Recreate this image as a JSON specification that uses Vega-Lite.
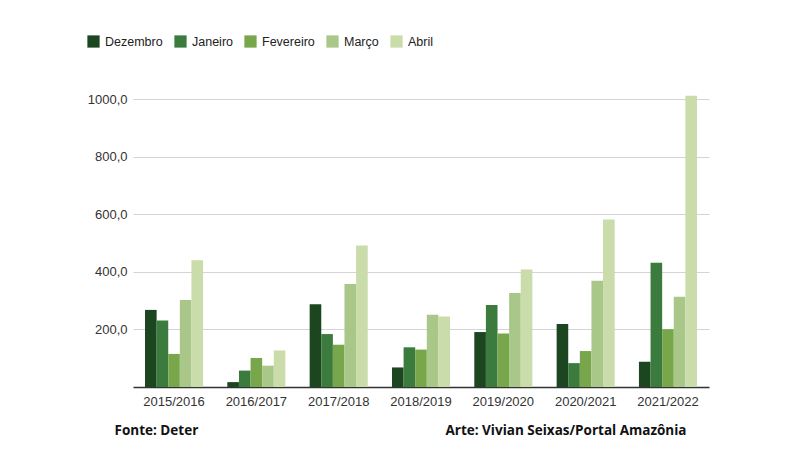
{
  "$schema": "https://vega.github.io/schema/vega-lite/v6.json",
  "description": "Desmatamento Deter por safra, dezembro a abril",
  "autosize": {"type": "none"},
  "width": 576,
  "height": 292,
  "padding": {"left": 133, "top": 95, "right": 91, "bottom": 63},
  "background": "white",
  "data": {
    "values": [
      {"safra": "2015/2016", "mes": "Dezembro", "area": 268},
      {"safra": "2015/2016", "mes": "Janeiro", "area": 231},
      {"safra": "2015/2016", "mes": "Fevereiro", "area": 115},
      {"safra": "2015/2016", "mes": "Março", "area": 302},
      {"safra": "2015/2016", "mes": "Abril", "area": 441},
      {"safra": "2016/2017", "mes": "Dezembro", "area": 17},
      {"safra": "2016/2017", "mes": "Janeiro", "area": 57},
      {"safra": "2016/2017", "mes": "Fevereiro", "area": 101},
      {"safra": "2016/2017", "mes": "Março", "area": 74},
      {"safra": "2016/2017", "mes": "Abril", "area": 127},
      {"safra": "2017/2018", "mes": "Dezembro", "area": 288},
      {"safra": "2017/2018", "mes": "Janeiro", "area": 184},
      {"safra": "2017/2018", "mes": "Fevereiro", "area": 147},
      {"safra": "2017/2018", "mes": "Março", "area": 358},
      {"safra": "2017/2018", "mes": "Abril", "area": 492},
      {"safra": "2018/2019", "mes": "Dezembro", "area": 68},
      {"safra": "2018/2019", "mes": "Janeiro", "area": 138},
      {"safra": "2018/2019", "mes": "Fevereiro", "area": 130},
      {"safra": "2018/2019", "mes": "Março", "area": 251},
      {"safra": "2018/2019", "mes": "Abril", "area": 245},
      {"safra": "2019/2020", "mes": "Dezembro", "area": 191},
      {"safra": "2019/2020", "mes": "Janeiro", "area": 285},
      {"safra": "2019/2020", "mes": "Fevereiro", "area": 186},
      {"safra": "2019/2020", "mes": "Março", "area": 327},
      {"safra": "2019/2020", "mes": "Abril", "area": 408},
      {"safra": "2020/2021", "mes": "Dezembro", "area": 219},
      {"safra": "2020/2021", "mes": "Janeiro", "area": 83},
      {"safra": "2020/2021", "mes": "Fevereiro", "area": 125},
      {"safra": "2020/2021", "mes": "Março", "area": 369},
      {"safra": "2020/2021", "mes": "Abril", "area": 582},
      {"safra": "2021/2022", "mes": "Dezembro", "area": 88},
      {"safra": "2021/2022", "mes": "Janeiro", "area": 432},
      {"safra": "2021/2022", "mes": "Fevereiro", "area": 201},
      {"safra": "2021/2022", "mes": "Março", "area": 314},
      {"safra": "2021/2022", "mes": "Abril", "area": 1012}
    ]
  },
  "mark": {"type": "bar"},
  "encoding": {
    "x": {
      "field": "safra",
      "type": "nominal",
      "scale": {"paddingInner": 0.295, "paddingOuter": 0.146},
      "axis": {
        "labelAngle": 0,
        "labelFont": "Liberation Sans",
        "labelFontSize": 13,
        "labelColor": "#333333",
        "labelPadding": 8,
        "ticks": false,
        "domainColor": "#333333",
        "domainWidth": 1.5,
        "title": "Arte: Vivian Seixas/Portal Amazônia",
        "titleFont": "Open Sans",
        "titleFontWeight": "bold",
        "titleFontSize": 13.5,
        "titleColor": "#111111",
        "titleAnchor": "end",
        "titleAlign": "right",
        "titleBaseline": "middle",
        "titleX": 553,
        "titleY": 43
      }
    },
    "xOffset": {
      "field": "mes",
      "type": "nominal",
      "sort": ["Dezembro", "Janeiro", "Fevereiro", "Março", "Abril"],
      "scale": {"paddingInner": 0, "paddingOuter": 0}
    },
    "y": {
      "field": "area",
      "type": "quantitative",
      "scale": {"domain": [0, 1015], "nice": false},
      "axis": {
        "values": [200, 400, 600, 800, 1000],
        "labelExpr": "replace(format(datum.value, '.1f'), '.', ',')",
        "labelFont": "Liberation Sans",
        "labelFontSize": 13,
        "labelColor": "#333333",
        "labelPadding": 6,
        "ticks": false,
        "domain": false,
        "gridColor": "#d4d4d4",
        "gridWidth": 1,
        "title": "Fonte: Deter",
        "titleAngle": 0,
        "titleFont": "Open Sans",
        "titleFontWeight": "bold",
        "titleFontSize": 13.5,
        "titleColor": "#111111",
        "titleAlign": "left",
        "titleBaseline": "middle",
        "titleX": -19,
        "titleY": 335
      }
    },
    "color": {
      "field": "mes",
      "type": "nominal",
      "sort": ["Dezembro", "Janeiro", "Fevereiro", "Março", "Abril"],
      "scale": {
        "domain": ["Dezembro", "Janeiro", "Fevereiro", "Março", "Abril"],
        "range": ["#1b4620", "#3b7b3e", "#78a74b", "#a8c788", "#c9dca9"]
      },
      "legend": {
        "title": null,
        "orient": "none",
        "direction": "horizontal",
        "legendX": -46,
        "legendY": -60,
        "symbolType": "square",
        "symbolSize": 150,
        "symbolStrokeWidth": 0,
        "symbolOpacity": 1,
        "labelFont": "Liberation Sans",
        "labelFontSize": 12.5,
        "labelColor": "#222222",
        "labelOffset": 5,
        "columnPadding": 11
      }
    }
  },
  "config": {
    "view": {"stroke": null},
    "font": "Liberation Sans"
  }
}
